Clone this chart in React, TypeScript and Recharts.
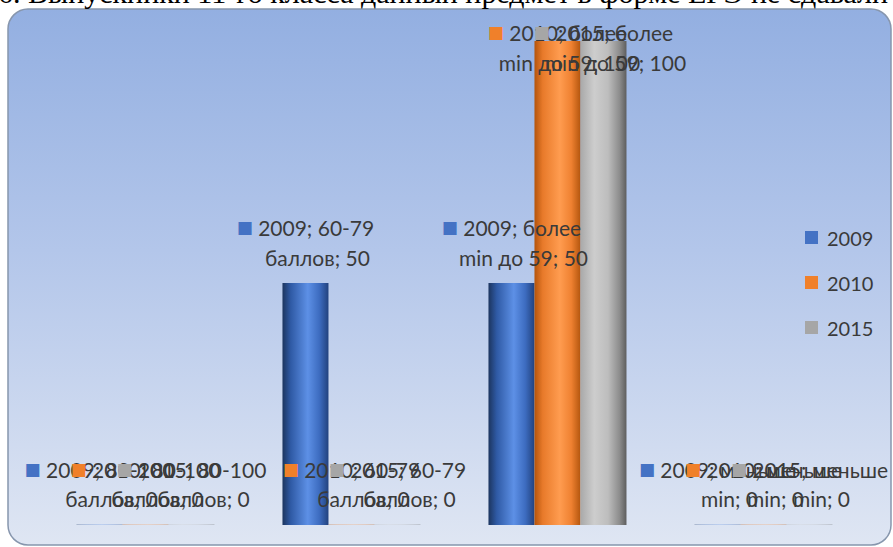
import React from "react";
import { BarChart, Bar, XAxis, YAxis, LabelList, Legend } from "recharts";

const categories = ["80-100 баллов", "60-79 баллов", "более min до 59", "меньше min"];
const labelFirstLine = ["80-100", "60-79", "более", "меньше"];
const labelSecondLine = ["баллов", "баллов", "min до 59", "min"];
const seriesNames = ["2009", "2010", "2015"];
const values2009 = [0, 50, 50, 0];
const values2010 = [0, 0, 100, 0];
const values2015 = [0, 0, 100, 0];
const keyColors = ["#4472c4", "#f0802a", "#a6a6a6"];
const titleText = "6. Выпускники 11-го класса данный предмет в форме ЕГЭ не сдавали";

const data = categories.map((c, i) => ({
  category: c,
  s2009: values2009[i],
  s2010: values2010[i],
  s2015: values2015[i],
}));

const W = 893;
const H = 547;
const FONT = "Lato, 'Open Sans', sans-serif";
const TEXT_COLOR = "#3a3a3a";

function makeLabel(name: string, color: string) {
  return (props: any) => {
    const x = Number(props.x);
    const y = Number(props.y);
    const w = Number(props.width);
    const h = Number(props.height);
    const cat = props.payload && props.payload.category;
    let idx = categories.indexOf(cat);
    if (idx < 0) idx = Number(props.index);
    const v = props.value;
    const cx = x + w / 2;
    const top = Math.min(y, y + h);
    const l1 = Math.max(top - 56, 32);
    return (
      <g>
        <text
          x={cx}
          y={l1}
          textAnchor="middle"
          dominantBaseline="central"
          fontFamily={FONT}
          fontSize={21}
          fill={TEXT_COLOR}
        >
          <tspan fill={color} fontFamily="'DejaVu Sans'" fontSize={17}>■</tspan>
          <tspan>{"   " + name + "; " + labelFirstLine[idx]}</tspan>
        </text>
        <text
          x={cx + 12}
          y={l1 + 30}
          textAnchor="middle"
          dominantBaseline="central"
          fontFamily={FONT}
          fontSize={21}
          fill={TEXT_COLOR}
        >
          {labelSecondLine[idx] + "; " + v}
        </text>
      </g>
    );
  };
}

const renderLegend = () => (
  <div style={{ fontFamily: FONT, fontSize: 20, color: TEXT_COLOR }}>
    {seriesNames.map((n, i) => (
      <div key={n} style={{ display: "flex", alignItems: "center", height: 45 }}>
        <span
          style={{
            display: "inline-block",
            width: 13,
            height: 13,
            background: keyColors[i],
            marginRight: 9,
          }}
        />
        <span>{n}</span>
      </div>
    ))}
  </div>
);

export default function App() {
  return (
    <div style={{ position: "absolute", left: 0, top: 0, width: W, height: H, overflow: "hidden", background: "#fff" }}>
      <svg width={W} height={H} style={{ position: "absolute", left: 0, top: 0 }}>
        <defs>
          <linearGradient id="bgGrad" x1="0" y1="0" x2="0" y2="1">
            <stop offset="0%" stopColor="#93afe1" />
            <stop offset="45%" stopColor="#b3c6ea" />
            <stop offset="100%" stopColor="#dfe6f3" />
          </linearGradient>
        </defs>
        <rect x={8} y={9} width={883} height={536} rx={20} ry={20} fill="url(#bgGrad)" stroke="#8796ad" strokeWidth={1.5} />
      </svg>
      <div style={{ position: "absolute", left: 0, top: 0 }}>
        <BarChart
          width={W}
          height={H}
          data={data}
          margin={{ top: 41, right: 26, left: 43, bottom: 22 }}
          barGap={0}
          barCategoryGap="16.25%"
        >
          <defs>
            <linearGradient id="g2009" x1="0" y1="0" x2="1" y2="0">
              <stop offset="0%" stopColor="#1c355f" />
              <stop offset="18%" stopColor="#2f5aa5" />
              <stop offset="55%" stopColor="#5d90e6" />
              <stop offset="80%" stopColor="#3d6cc0" />
              <stop offset="100%" stopColor="#22427e" />
            </linearGradient>
            <linearGradient id="g2010" x1="0" y1="0" x2="1" y2="0">
              <stop offset="0%" stopColor="#b4540c" />
              <stop offset="18%" stopColor="#e87a2a" />
              <stop offset="55%" stopColor="#ff9c50" />
              <stop offset="80%" stopColor="#ef8131" />
              <stop offset="100%" stopColor="#b4560e" />
            </linearGradient>
            <linearGradient id="g2015" x1="0" y1="0" x2="1" y2="0">
              <stop offset="0%" stopColor="#a9a9a9" />
              <stop offset="30%" stopColor="#cdcdcd" />
              <stop offset="60%" stopColor="#bdbdbd" />
              <stop offset="85%" stopColor="#8c8c8c" />
              <stop offset="100%" stopColor="#5e5e5e" />
            </linearGradient>
          </defs>
          <XAxis
            dataKey="category"
            tick={false}
            tickLine={false}
            height={0}
            axisLine={{ stroke: "#7a7f88", strokeWidth: 1.5 }}
          />
          <YAxis hide domain={[0, 100]} />
          <Legend
            layout="horizontal"
            verticalAlign="middle"
            align="center"
            content={renderLegend}
            wrapperStyle={{ position: "absolute", left: 805, top: 215, width: 90, height: 140 }}
          />
          <Bar dataKey="s2009" name={seriesNames[0]} fill="url(#g2009)" minPointSize={0.2} isAnimationActive={false}>
            <LabelList dataKey="s2009" content={makeLabel(seriesNames[0], keyColors[0])} />
          </Bar>
          <Bar dataKey="s2010" name={seriesNames[1]} fill="url(#g2010)" minPointSize={0.2} isAnimationActive={false}>
            <LabelList dataKey="s2010" content={makeLabel(seriesNames[1], keyColors[1])} />
          </Bar>
          <Bar dataKey="s2015" name={seriesNames[2]} fill="url(#g2015)" minPointSize={0.2} isAnimationActive={false}>
            <LabelList dataKey="s2015" content={makeLabel(seriesNames[2], keyColors[2])} />
          </Bar>
        </BarChart>
      </div>
      <svg width={W} height={H} style={{ position: "absolute", left: 0, top: 0, pointerEvents: "none" }}>
        <text x={-2} y={3} fontFamily="'Liberation Serif', serif" fontSize={30} fill="#000">
          {titleText}
        </text>
      </svg>
    </div>
  );
}
